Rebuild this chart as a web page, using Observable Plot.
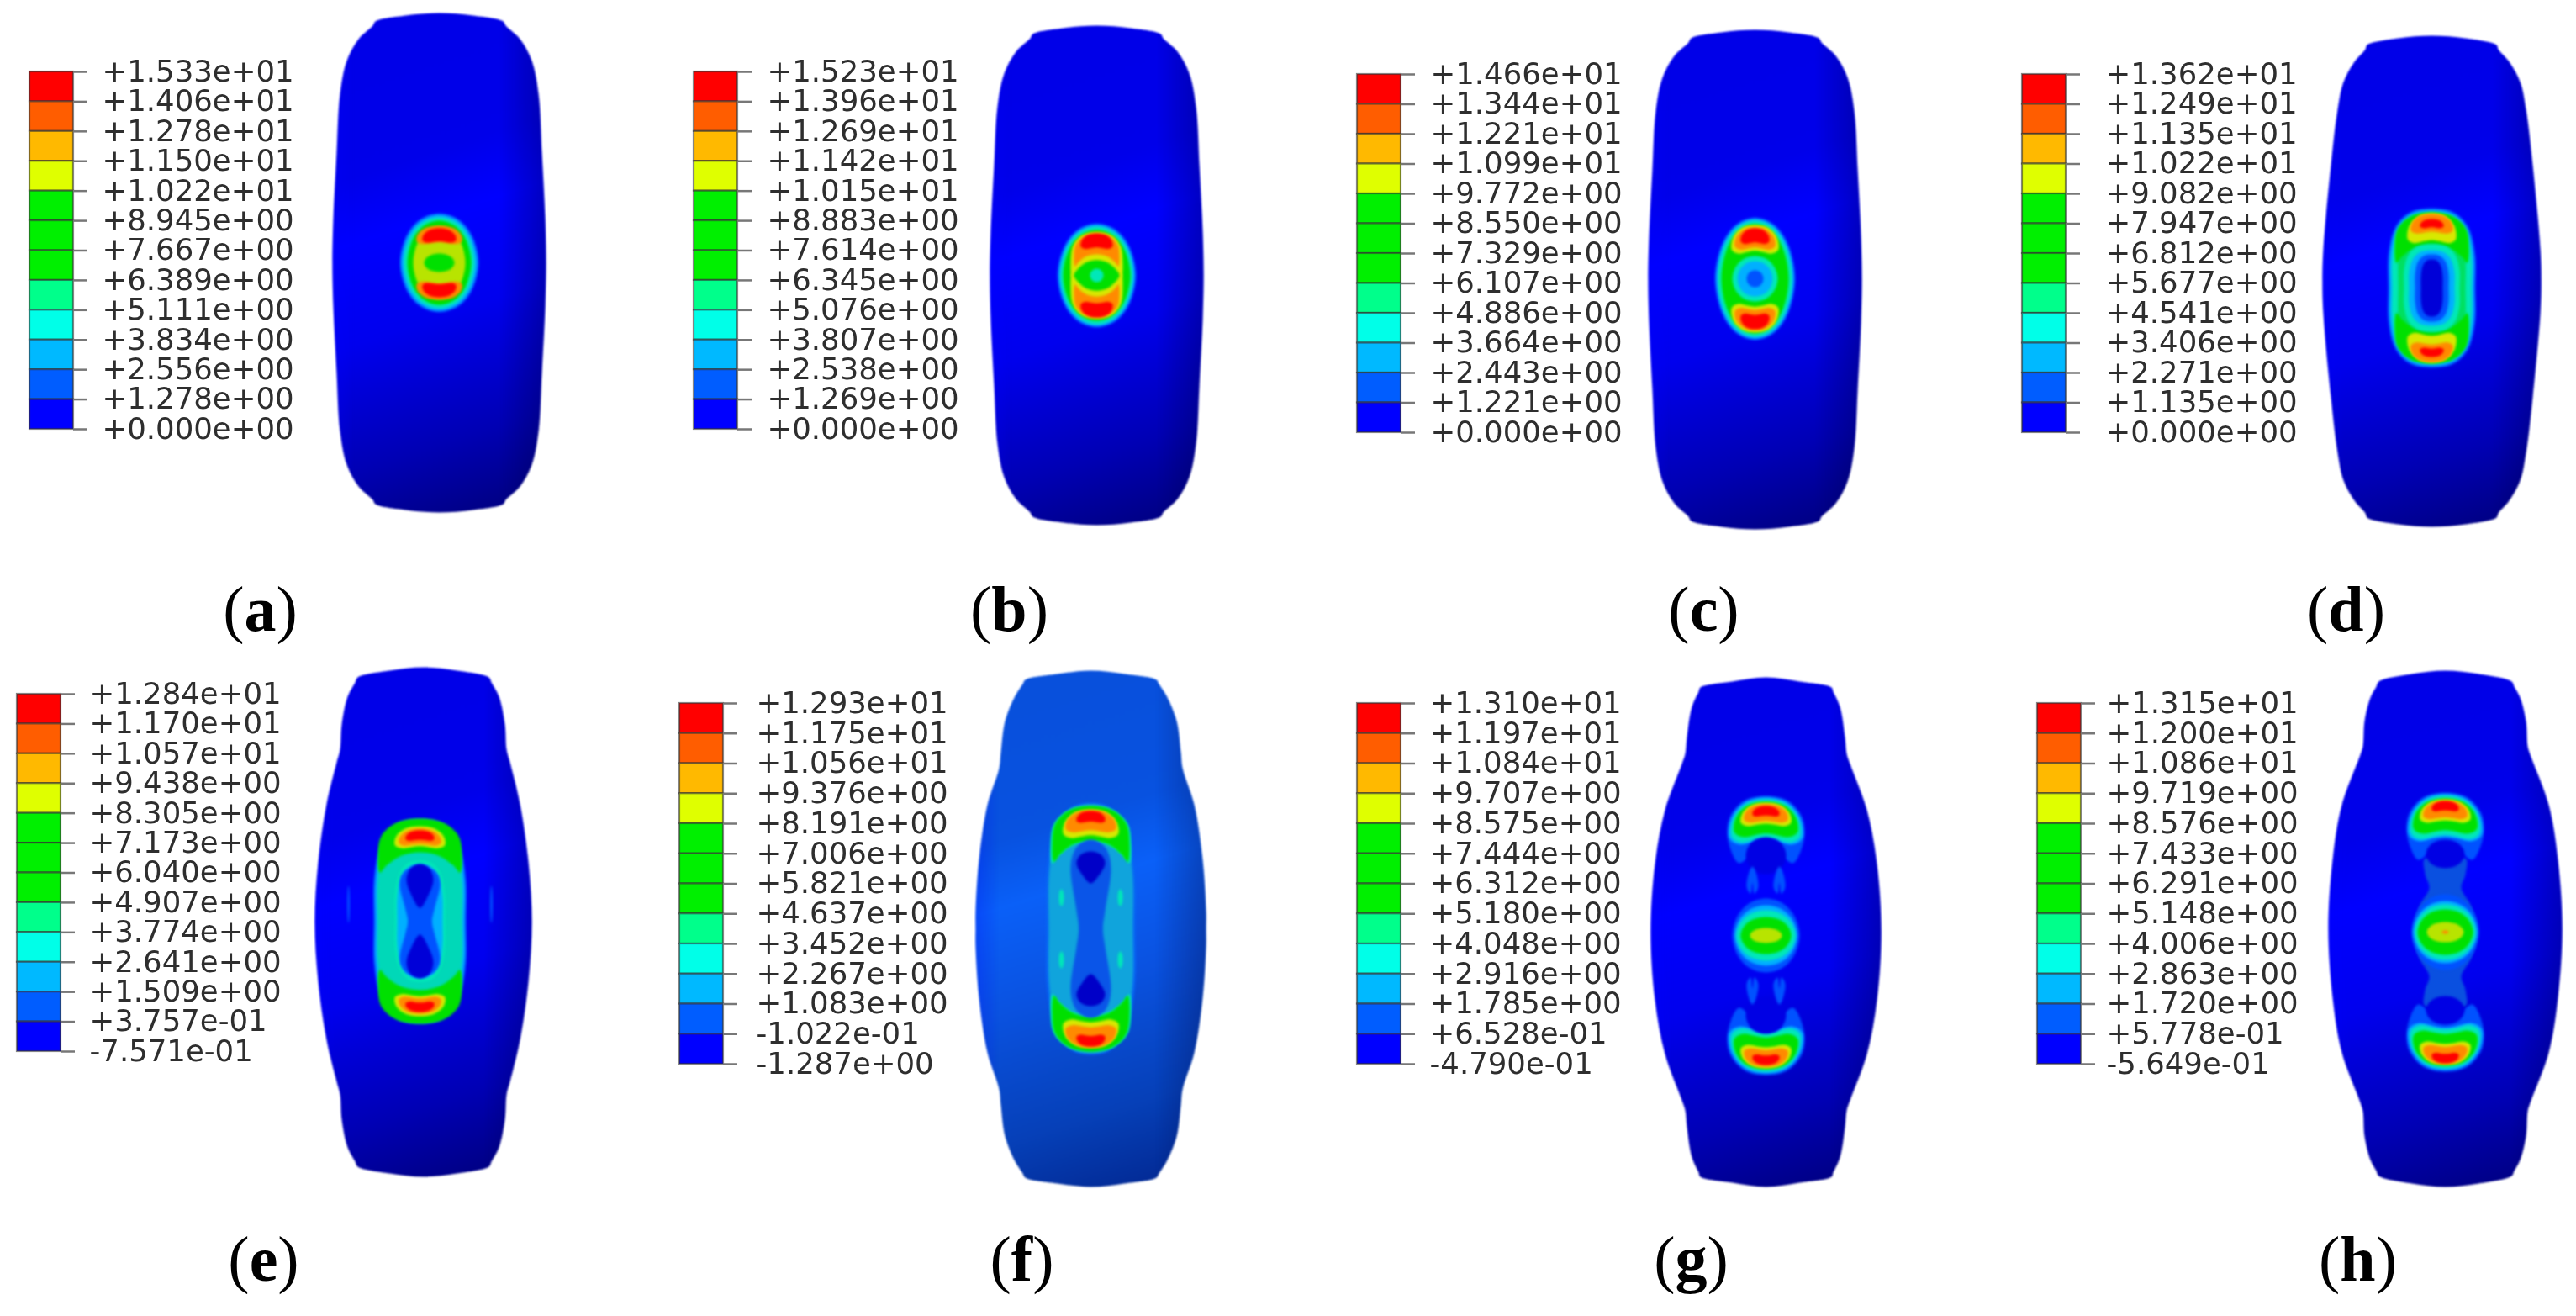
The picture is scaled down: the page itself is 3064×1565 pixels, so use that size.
<!DOCTYPE html>
<html><head><meta charset="utf-8">
<script src="https://cdn.jsdelivr.net/npm/d3@7"></script>
<script src="https://cdn.jsdelivr.net/npm/@observablehq/plot@0.6"></script>
<style>
html,body{margin:0;padding:0;background:#fff}
svg{display:block}
.blob{filter:blur(1.8px)}
.hull{filter:blur(1px)}
.lab{filter:blur(.5px)}
</style></head><body><div id="chart"></div>
<script>
const labelsA=["+1.533e+01","+1.406e+01","+1.278e+01","+1.150e+01","+1.022e+01","+8.945e+00","+7.667e+00","+6.389e+00","+5.111e+00","+3.834e+00","+2.556e+00","+1.278e+00","+0.000e+00"];
const labelsB=["+1.523e+01","+1.396e+01","+1.269e+01","+1.142e+01","+1.015e+01","+8.883e+00","+7.614e+00","+6.345e+00","+5.076e+00","+3.807e+00","+2.538e+00","+1.269e+00","+0.000e+00"];
const labelsC=["+1.466e+01","+1.344e+01","+1.221e+01","+1.099e+01","+9.772e+00","+8.550e+00","+7.329e+00","+6.107e+00","+4.886e+00","+3.664e+00","+2.443e+00","+1.221e+00","+0.000e+00"];
const labelsD=["+1.362e+01","+1.249e+01","+1.135e+01","+1.022e+01","+9.082e+00","+7.947e+00","+6.812e+00","+5.677e+00","+4.541e+00","+3.406e+00","+2.271e+00","+1.135e+00","+0.000e+00"];
const labelsE=["+1.284e+01","+1.170e+01","+1.057e+01","+9.438e+00","+8.305e+00","+7.173e+00","+6.040e+00","+4.907e+00","+3.774e+00","+2.641e+00","+1.509e+00","+3.757e-01","-7.571e-01"];
const labelsF=["+1.293e+01","+1.175e+01","+1.056e+01","+9.376e+00","+8.191e+00","+7.006e+00","+5.821e+00","+4.637e+00","+3.452e+00","+2.267e+00","+1.083e+00","-1.022e-01","-1.287e+00"];
const labelsG=["+1.310e+01","+1.197e+01","+1.084e+01","+9.707e+00","+8.575e+00","+7.444e+00","+6.312e+00","+5.180e+00","+4.048e+00","+2.916e+00","+1.785e+00","+6.528e-01","-4.790e-01"];
const labelsH=["+1.315e+01","+1.200e+01","+1.086e+01","+9.719e+00","+8.576e+00","+7.433e+00","+6.291e+00","+5.148e+00","+4.006e+00","+2.863e+00","+1.720e+00","+5.778e-01","-5.649e-01"];
const ramp=["#ff0000","#ff5d00","#ffb900","#dfff00","#00f000","#00f000","#00f000","#00ff8b","#00ffe8","#00b9ff","#005dff","#0000ff"];

const BL="#0052ff",SK="#00b0ff",AQ="#00e8b8",GR="#00e000",YG="#b8e400",YE="#d8e800",OR="#ff8a00",RE="#ff0000",TE="#00d8b8",NV="#0000d8",DK="#0000e4",RB="#10a4dc";

const hullA=[[0,-297],[40,-294],[76,-287],[79,-282],[96,-266],[110,-240],[118,-200],[122,-130],[126,-50],[127,0]];
const hullD=[[0,-292],[40,-289],[77,-281],[79,-276],[92,-261],[105,-237],[112,-204],[120,-137],[129,-37],[130,0]];
const hullE=[[0,-303],[40,-299],[78,-291],[81,-285],[90,-268],[97,-235],[99,-205],[103,-190],[115,-140],[125,-70],[129,0]];
const hullF=[[0,-307],[40,-303],[78,-296],[81,-291],[90,-277],[102,-247],[107,-210],[109,-191],[123,-147],[133,-81],[137,-20],[137,0]];
const hullG=[[0,-303],[40,-298],[78,-291],[80,-286],[88,-268],[94,-232],[96,-212],[100,-200],[120,-145],[132,-80],[137,0]];
const hullH=[[0,-307],[40,-303],[79,-294],[82,-288],[89,-275],[96,-247],[98,-217],[101,-207],[123,-147],[134,-81],[139,0]];

const quad=q=>q.concat(q.filter(p=>p[1]<0).reverse().map(([x,y])=>[x,-y]));
const oval=quad([[0,-1],[.5,-.87],[.85,-.52],[1,0]]);
const pill=quad([[0,-1],[.5,-.95],[.85,-.75],[1,-.4],[1,0]]);
const dome=[[0,-1],[.55,-.85],[.92,-.35],[1,.3],[.72,.55],[.3,.45],[0,.4]];
const horn=[[0,-1],[.55,-.85],[.92,-.35],[1,.4],[.96,1],[.78,.72],[.45,.38],[0,.25]];
const cres=[[0,-1],[.55,-.87],[.92,-.42],[1,.1],[.9,.6],[.7,.95],[.4,.75],[0,.6]];
const waist=quad([[0,-1],[.75,-.9],[1,-.65],[.72,-.22],[.6,0]]);
const neck=quad([[0,-1],[1,-1.02],[1,-.8],[.8,-.6],[1.3,-.35],[1.6,0]]);
const drop=[[0,-1],[.7,-.8],[1,-.25],[.65,.4],[0,1]];
const wedge=[[0,-1],[.7,-.4],[1,.5],[.3,1],[0,.2]];

const layersA=[[oval,0,0,47,59,BL],[oval,0,0,45,57,SK],[oval,0,0,42,54,AQ],[oval,0,0,38,50,GR],[oval,0,0,31,43,YG],
 [dome,0,-30,27,14,OR],[dome,0,-30,20,11,RE],[dome,0,30,27,-14,OR],[dome,0,30,20,-11,RE],[oval,0,0,18,11,GR]];
const layersB=[[oval,0,0,47,62,BL],[oval,0,0,45,60,SK],[oval,0,0,43,58,AQ],[oval,0,0,40,54,GR],
 [horn,0,-25,31,27,YE],[horn,0,-30,27,19,OR],[dome,0,-38,19,12,RE],[horn,0,25,31,-27,YE],[horn,0,30,27,-19,OR],[dome,0,38,19,-12,RE],[oval,0,0,8,8,AQ]];
const layersC=[[oval,0,0,48,73,BL],[oval,0,0,46,71,SK],[oval,0,0,44,69,AQ],[oval,0,0,40,65,GR],
 [dome,0,-42,28,22,YE],[dome,0,-44,24,17,OR],[dome,0,-48,17,12,RE],[dome,0,42,28,-22,YE],[dome,0,44,24,-17,OR],[dome,0,48,17,-12,RE],
 [oval,0,0,27,27,AQ],[oval,0,0,21,21,SK],[oval,0,0,10,10,BL]];
const layersD=[[pill,0,0,52,95,BL],[pill,0,0,50,93,SK],[pill,0,0,47,90,AQ],[pill,0,0,40,84,"#00e060"],
 [horn,0,-60,44,30,GR],[horn,0,60,44,-30,GR],[pill,0,0,33,52,AQ],[pill,0,0,27,45,SK],[pill,0,0,20,40,BL],[pill,0,0,13,34,NV],
 [dome,0,-66,29,23,YE],[dome,0,-73,25,15,OR],[dome,0,-75,14,7,RE],[dome,0,66,29,-23,YE],[dome,0,73,25,-15,OR],[dome,0,75,14,-7,RE]];
const layersE=[[pill,0,0,55,122,BL],[pill,0,0,53,120,SK],[pill,0,0,50,117,TE],[horn,0,-90,50,32,GR],[horn,0,90,50,-32,GR],
 [pill,0,0,30,72,AQ],[pill,0,0,27,68,SK],[waist,0,0,24,66,BL],[drop,0,-42,16,26,NV],[drop,0,42,16,-26,NV],
 [dome,0,-96,30,17,YE],[dome,0,-97,25,13,OR],[dome,0,-100,17,8,RE],[dome,0,96,30,-17,YE],[dome,0,97,25,-13,OR],[dome,0,100,17,-8,RE],
 [oval,-85,-20,1.5,22,BL],[oval,85,-20,1.5,22,BL]];
const layersF=[[pill,0,0,53,150,"#0866f4"],[pill,0,0,50,148,RB],
 [horn,0,-112,48,34,AQ],[horn,0,112,48,-34,AQ],[horn,0,-113,46,33,GR],[horn,0,113,46,-33,GR],
 [waist,0,0,24,106,"#0a55e8"],[drop,0,-73,17,19,"#0000c8"],[drop,0,73,17,-19,"#0000c8"],
 [dome,0,-120,33,22,YE],[dome,0,-124,30,17,OR],[dome,0,-131,17,9,RE],[dome,0,120,33,-22,YE],[dome,0,124,30,-17,OR],[dome,0,131,17,-9,RE],
 [oval,-35,-37,3,10,AQ],[oval,35,-37,3,10,AQ],[oval,-35,37,3,10,AQ],[oval,35,37,3,10,AQ]];
const layersG=[[cres,0,-125,46,41,BL],[dome,0,-128,44,36,SK],[dome,0,-129,41,33,AQ],[dome,0,-132,38,27,GR],[dome,0,-140,30,18,YE],[dome,0,-142,26,14,OR],[dome,0,-146,16,8,RE],
 [cres,0,125,46,-41,BL],[dome,0,128,44,-36,SK],[dome,0,129,41,-33,AQ],[dome,0,132,38,-27,GR],[dome,0,140,30,-18,YE],[dome,0,142,26,-14,OR],[dome,0,146,16,-8,RE],
 [oval,0,0,40,44,BL],[oval,0,0,37,36,SK],[oval,0,0,35,30,AQ],[oval,0,0,30,22,GR],[oval,0,0,19,9,YG],
 [oval,0,-95,24,22,DK],[oval,0,95,24,-22,DK],
 [wedge,16,-66,7,16,BL],[wedge,-16,-66,-7,16,BL],[wedge,16,66,7,-16,BL],[wedge,-16,66,-7,-16,BL]];
const layersH=[[cres,0,-125,46,41,BL],[cres,0,125,46,-41,BL],[neck,0,0,24,86,"#0a50e0"],[oval,0,-93,23,17,DK],[oval,0,93,23,-17,DK],
 [dome,0,-128,44,36,SK],[dome,0,-129,41,33,AQ],[dome,0,-132,38,27,GR],[dome,0,-140,30,18,YE],[dome,0,-142,26,14,OR],[dome,0,-148,16,8,RE],
 [dome,0,128,44,-36,SK],[dome,0,129,41,-33,AQ],[dome,0,132,38,-27,GR],[dome,0,140,30,-18,YE],[dome,0,142,26,-14,OR],[dome,0,148,16,-8,RE],
 [oval,0,0,40,45,BL],[oval,0,0,38,37,SK],[oval,0,0,36,33,AQ],[oval,0,0,33,27,GR],[oval,0,0,22,12,YG],[oval,0,0,4,2,OR]];

const panels=[
 {tag:"a",labels:labelsA,barX:35,barTop:85,barBot:510,txt:121,hull:hullA,cx:522,cy:312,bx:522,by:312,layers:layersA,capX:309,capY:725,shade:"deep"},
 {tag:"b",labels:labelsB,barX:825,barTop:85,barBot:510,txt:912,hull:hullA,cx:1304,cy:327,bx:1304,by:327,layers:layersB,capX:1200,capY:725,shade:"deep"},
 {tag:"c",labels:labelsC,barX:1614,barTop:88,barBot:514,txt:1701,hull:hullA,cx:2087,cy:332,bx:2087,by:331,layers:layersC,capX:2026,capY:725,shade:"deep"},
 {tag:"d",labels:labelsD,barX:2405,barTop:88,barBot:514,txt:2504,hull:hullD,cx:2892,cy:334,bx:2892,by:342,layers:layersD,capX:2790,capY:725,shade:"deep"},
 {tag:"e",labels:labelsE,barX:20,barTop:825,barBot:1250,txt:106,hull:hullE,cx:503,cy:1096,bx:499,by:1095,layers:layersE,capX:313,capY:1498,shade:"deep"},
 {tag:"f",labels:labelsF,barX:808,barTop:836,barBot:1265,txt:899,hull:hullF,cx:1297,cy:1104,bx:1297,by:1104,layers:layersF,capX:1215,capY:1498,shade:"pale"},
 {tag:"g",labels:labelsG,barX:1614,barTop:836,barBot:1265,txt:1700,hull:hullG,cx:2100,cy:1108,bx:2100,by:1112,layers:layersG,capX:2011,capY:1498,shade:"deep"},
 {tag:"h",labels:labelsH,barX:2423,barTop:836,barBot:1265,txt:2505,hull:hullH,cx:2908,cy:1104,bx:2908,by:1108,layers:layersH,capX:2804,capY:1498,shade:"deep"}
];

const barW=52, tickEnd=17;
const closed=half=>half.concat(half.filter(p=>p[0]>0).reverse().map(([x,y])=>[-x,y]));
const place=(half,cx,cy,sx,sy)=>closed(half).map(([x,y])=>({x:cx+x*sx,y:cy+y*sy}));

function gradient(id,stops,x1,y1,x2,y2){
  const g=d3.create("svg:linearGradient").attr("id",id).attr("x1",x1).attr("y1",y1).attr("x2",x2).attr("y2",y2);
  stops.forEach(([o,c,a])=>g.append("stop").attr("offset",o).attr("stop-color",c).attr("stop-opacity",a??1));
  return g.node();
}
const defsMark=()=>{
  const d=d3.create("svg:defs");
  d.node().append(gradient("deep",[[0,"#0000e8"],[.27,"#0000ea"],[.4,"#0000ff"],[.6,"#0000ee"],[.85,"#0000b4"],[1,"#000088"]],.48,0,.62,1));
  d.node().append(gradient("pale",[[0,"#0850dc"],[.27,"#0852e0"],[.4,"#0a60f8"],[.6,"#0a52e0"],[.85,"#0640b8"],[1,"#032c98"]],.48,0,.62,1));
  d.node().append(gradient("edge",[[0,"#0000ff",.25],[.1,"#0000ff",0],[.78,"#000033",0],[1,"#000033",.3]],0,0,1,0));
  return d.node();
};

const marks=[defsMark];
for(const p of panels){
  const step=(p.barBot-p.barTop)/ramp.length;
  const y=i=>p.barTop+i*step;
  const cells=ramp.map((c,i)=>({x1:p.barX,x2:p.barX+barW,y1:y(i),y2:y(i+1),c}));
  marks.push(Plot.rect(cells,{x1:"x1",x2:"x2",y1:"y1",y2:"y2",fill:"c",stroke:"#333",strokeOpacity:.6,strokeWidth:2.2,className:"lab"}));
  const ticks=p.labels.map((t,i)=>({t,y:y(i),x1:p.barX+barW,x2:p.barX+barW+tickEnd,tx:p.txt}));
  marks.push(Plot.ruleY(ticks,{y:"y",x1:"x1",x2:"x2",stroke:"#777",strokeWidth:2.5,className:"lab"}));
  marks.push(Plot.text(ticks,{x:"tx",y:"y",text:"t",dy:0,textAnchor:"start",fontFamily:"DejaVu Sans",fontSize:35.5,fill:"#2e2e2e",className:"lab"}));
  const hull=place(quad(p.hull),p.cx,p.cy,1,1);
  marks.push(Plot.line(hull,{x:"x",y:"y",fill:`url(#${p.shade})`,stroke:"none",curve:"catmull-rom-closed",className:"hull"}));
  marks.push(Plot.line(hull,{x:"x",y:"y",fill:"url(#edge)",stroke:"none",curve:"catmull-rom-closed",className:"hull"}));
  for(const [s,dx,dy,sx,sy,c] of p.layers){
    marks.push(Plot.line(place(s,p.bx+dx,p.by+dy,sx,sy),{x:"x",y:"y",fill:c,stroke:"none",curve:"cardinal-closed",className:"blob"}));
  }
  marks.push(Plot.text([{x:p.capX,y:p.capY,t:`(${p.tag})`}],{x:"x",y:"y",text:"t",fontFamily:"Liberation Serif",fontSize:76,fill:"#000",className:"cap"}));
}

const chart=Plot.plot({width:3064,height:1565,margin:0,
  x:{domain:[0,3064],range:[0,3064],axis:null},
  y:{domain:[0,1565],range:[0,1565],axis:null},
  style:{background:"#fff"},marks});
document.getElementById("chart").append(chart);
d3.select(chart).selectAll(".cap text").each(function(){
  const t=this.textContent, s=d3.select(this).text("");
  s.append("tspan").text("(");
  s.append("tspan").attr("font-weight","bold").text(t.slice(1,-1));
  s.append("tspan").text(")");
});
</script></body></html>
